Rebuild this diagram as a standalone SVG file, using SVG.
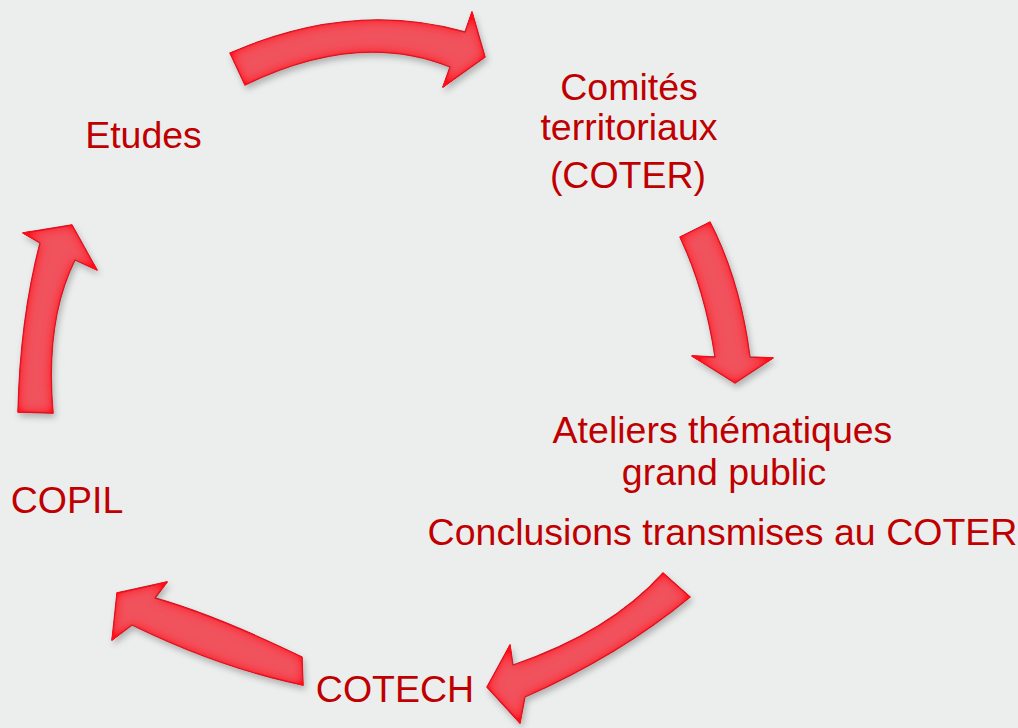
<svg xmlns="http://www.w3.org/2000/svg" width="1018" height="728" viewBox="0 0 1018 728">
  <style>
    .lbl { font-family: "Liberation Sans", Arial, sans-serif; font-size: 37.5px; fill: #C00000; text-anchor: middle; }
    .arr { fill: #F1535D; stroke: #9E2A30; stroke-width: 1.3; stroke-linejoin: round; filter: url(#bevel); }
  </style>
  <defs>
    <filter id="bevel" x="-20%" y="-20%" width="140%" height="140%">
      <feGaussianBlur in="SourceAlpha" stdDeviation="6" result="b"/>
      <feComposite in="SourceAlpha" in2="b" operator="arithmetic" k2="1.6" k3="-1.6" result="rim"/>
      <feFlood flood-color="#FF0818" flood-opacity="1"/>
      <feComposite in2="rim" operator="in" result="rimc"/>
      <feGaussianBlur in="SourceAlpha" stdDeviation="3" result="sb"/>
      <feOffset in="sb" dx="2" dy="4" result="so"/>
      <feFlood flood-color="#000000" flood-opacity="0.25"/>
      <feComposite in2="so" operator="in" result="shadow"/>
      <feMerge>
        <feMergeNode in="shadow"/>
        <feMergeNode in="SourceGraphic"/>
        <feMergeNode in="rimc"/>
      </feMerge>
    </filter>
  </defs>
  <rect width="1018" height="728" fill="#ECEEEE"/>

  <g id="connectors">
    <path id="arrow-etudes-coter" class="arr" d="M230,53 Q352,0 465,32 L472,12 L485,57 L443,87 L450,67 Q358,30 245,85 Z"/>
    <path id="arrow-coter-ateliers" class="arr" d="M710,222 Q740,280 750,357 L773,358 L735,383 L692,356 L715,357 Q705,290 680,237 Z"/>
    <path id="arrow-ateliers-cotech" class="arr" d="M663,573 Q610,632 513,665 L510,645 L487,687 L520,723 L525,697 Q620,655 690,597 Z"/>
    <path id="arrow-cotech-copil" class="arr" d="M302,657 Q215,615 155,598 L167,582 L117,593 L112,640 L132,625 Q220,668 303,685 Z"/>
    <path id="arrow-copil-etudes" class="arr" d="M53,413 Q45,320 75,260 L97,270 L72,225 L23,233 L40,243 Q20,320 18,412 Z"/>
  </g>

  <g id="node-etudes">
    <text class="lbl" x="143.5" y="148">Etudes</text>
  </g>
  <g id="node-coter">
    <text class="lbl" x="629" y="100">Comités</text>
    <text class="lbl" x="629" y="140">territoriaux</text>
    <text class="lbl" x="628" y="188">(COTER)</text>
  </g>
  <g id="node-ateliers">
    <text class="lbl" x="722.5" y="443">Ateliers thématiques</text>
    <text class="lbl" x="724" y="485">grand public</text>
    <text class="lbl" x="722.5" y="545">Conclusions transmises au COTER</text>
  </g>
  <g id="node-cotech">
    <text class="lbl" x="395" y="702">COTECH</text>
  </g>
  <g id="node-copil">
    <text class="lbl" x="67" y="513">COPIL</text>
  </g>
</svg>
